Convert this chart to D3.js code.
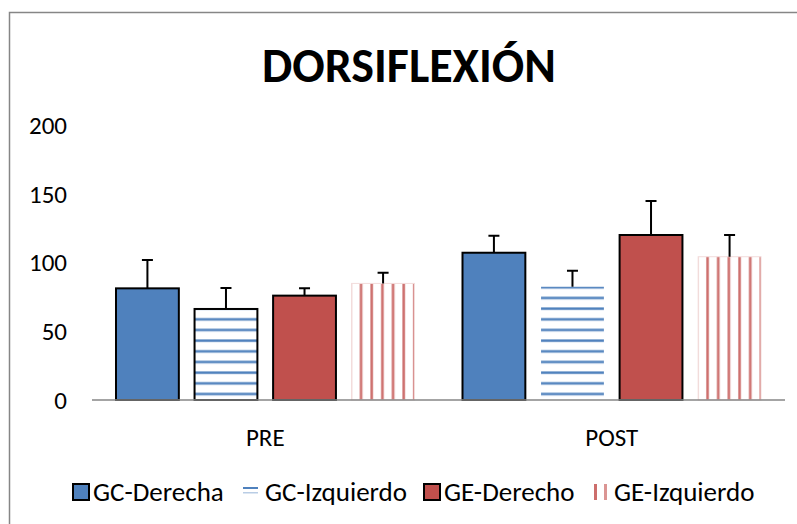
<!DOCTYPE html>
<html>
<head>
<meta charset="utf-8">
<script src="https://cdn.jsdelivr.net/npm/d3@7"></script>
<style>
  body { margin: 0; background: #fff; }
  svg { display: block; font-family: Carlito, Calibri, Lato, sans-serif; }
</style>
</head>
<body>
<div id="chart"></div>
<script>
// valeurs
var categories = ["PRE", "POST"];
var series = ["GC-Derecha", "GC-Izquierdo", "GE-Derecho", "GE-Izquierdo"];
var valoresPre = [81.2, 66.2, 75.9, 84.8];
var valoresPost = [107.1, 82.4, 120, 104.2];
var errorPre = [20.6, 15.3, 5.3, 7.8];
var errorPost = [12.4, 11.6, 24.7, 15.8];
var yTicks = [0, 50, 100, 150, 200];

var width = 797, height = 524;
var azul = "#4F81BD", rojo = "#C0504D";

var svg = d3.select("#chart").append("svg")
    .attr("width", width)
    .attr("height", height);

var defs = svg.append("defs");

// cadre du graphique (coupé à droite et en bas)
svg.append("rect")
    .attr("x", 9.5).attr("y", 12.5)
    .attr("width", 800).attr("height", 530)
    .style("fill", "none")
    .style("stroke", "#868686")
    .style("stroke-width", 1.5);

svg.append("text")
    .attr("x", 409)
    .attr("y", 82)
    .attr("text-anchor", "middle")
    .style("font-size", "48px")
    .style("font-weight", "bold")
    .text("DORSIFLEXIÓN");

var y = d3.scaleLinear().domain([0, 200]).range([400, 125]);
var x0 = d3.scaleBand().domain(categories).range([92, 785]);
var x1 = d3.scaleBand().domain(series).range([24, x0.bandwidth() - 24]).paddingInner(0.2);

// motif rayures horizontales (GC-Izquierdo)
var period = 10.67;
var hp = defs.append("pattern")
    .attr("id", "rayasH")
    .attr("patternUnits", "userSpaceOnUse")
    .attr("width", 20).attr("height", period)
    .attr("y", 9.3 - 1);
hp.append("rect").attr("width", 20).attr("height", period).style("fill", "#fff");
hp.append("rect").attr("y", 0).attr("width", 20).attr("height", 3.2).style("fill", "#B9CDE5");
hp.append("rect").attr("y", 0.6).attr("width", 20).attr("height", 2).style("fill", azul);

// y axis labels
svg.selectAll(".ytick")
    .data(yTicks)
    .enter().append("text")
    .attr("class", "ytick")
    .attr("x", 67)
    .attr("y", function (d) { return y(d); })
    .attr("dy", "0.35em")
    .attr("text-anchor", "end")
    .style("font-size", "25px")
    .text(function (d) { return d; });

var datos = [];
categories.forEach(function (c, ci) {
    var vals = ci == 0 ? valoresPre : valoresPost;
    var errs = ci == 0 ? errorPre : errorPost;
    series.forEach(function (s, si) {
        datos.push({ cat: c, serie: s, si: si, valor: vals[si], error: errs[si] });
    });
});

datos.forEach(function (d, i) {
    var bx = x0(d.cat) + x1(d.serie);
    if (d.si == 3) {
        // rayures verticales, calées sur le bord gauche de la barre
        var vp = defs.append("pattern")
            .attr("id", "rayasV" + i)
            .attr("patternUnits", "userSpaceOnUse")
            .attr("x", bx + 9.3 - 1.5).attr("width", period).attr("height", 20);
        vp.append("rect").attr("width", period).attr("height", 20).style("fill", "#fff");
        vp.append("rect").attr("width", 3.2).attr("height", 20).style("fill", "#E6B9B8");
        vp.append("rect").attr("x", 0.6).attr("width", 2).attr("height", 20).style("fill", "#CD6E6C");
    }
});

var g = svg.append("g");

g.selectAll(".bar")
    .data(datos)
    .enter().append("rect")
    .attr("class", "bar")
    .attr("x", function (d) { return x0(d.cat) + x1(d.serie); })
    .attr("y", function (d) { return y(d.valor); })
    .attr("width", x1.bandwidth())
    .attr("height", function (d) { return y(0) - y(d.valor); })
    .style("fill", function (d, i) {
        if (d.si == 0) return azul;
        if (d.si == 1) return "url(#rayasH)";
        if (d.si == 2) return rojo;
        return "url(#rayasV" + i + ")";
    })
    .style("stroke", function (d) {
        if (d.si == 3) return "#F2DCDB";
        if (d.si == 1 && d.cat == "POST") return "none";
        return "#000";
    })
    .style("stroke-width", function (d) { return d.si == 3 ? 1 : 2; });

// barres d'erreur
g.selectAll(".err")
    .data(datos)
    .enter().append("path")
    .attr("class", "err")
    .attr("d", function (d) {
        var cx = x0(d.cat) + x1(d.serie) + x1.bandwidth() / 2;
        var y1 = y(d.valor), y2 = y(d.valor + d.error);
        return "M" + cx + "," + y1 + "V" + y2 + "M" + (cx - 5.5) + "," + y2 + "H" + (cx + 5.5);
    })
    .style("fill", "none")
    .style("stroke", "#000")
    .style("stroke-width", 2);

// axe des x
svg.append("line")
    .attr("x1", 92).attr("x2", 785)
    .attr("y1", y(0)).attr("y2", y(0))
    .style("stroke", "#868686")
    .style("stroke-width", 1.5);

svg.selectAll(".xlab")
    .data(categories)
    .enter().append("text")
    .attr("class", "xlab")
    .attr("x", function (d) { return x0(d) + x0.bandwidth() / 2; })
    .attr("y", 446)
    .attr("text-anchor", "middle")
    .style("font-size", "25px")
    .text(function (d) { return d; });

// légende
var legX = [93, 265, 444, 614];
var legend = svg.append("g").attr("class", "legend");
series.forEach(function (s, si) {
    var lx = legX[si];
    if (si == 0 || si == 2) {
        legend.append("rect")
            .attr("x", lx - 20).attr("y", 484)
            .attr("width", 16).attr("height", 16)
            .style("fill", si == 0 ? azul : rojo)
            .style("stroke", "#000")
            .style("stroke-width", 2);
    } else if (si == 1) {
        legend.append("rect").attr("x", lx - 22).attr("y", 487).attr("width", 15).attr("height", 2).style("fill", azul);
        legend.append("rect").attr("x", lx - 22).attr("y", 492).attr("width", 15).attr("height", 1.5).style("fill", "#B9CDE5");
    } else {
        legend.append("rect").attr("x", lx - 20).attr("y", 484).attr("width", 3).attr("height", 16).style("fill", "#CD6E6C");
        legend.append("rect").attr("x", lx - 10).attr("y", 484).attr("width", 3).attr("height", 16).style("fill", "#DB9593");
    }
    legend.append("text")
        .attr("x", lx)
        .attr("y", 501)
        .style("font-size", "27px")
        .text(s);
});
</script>
</body>
</html>
